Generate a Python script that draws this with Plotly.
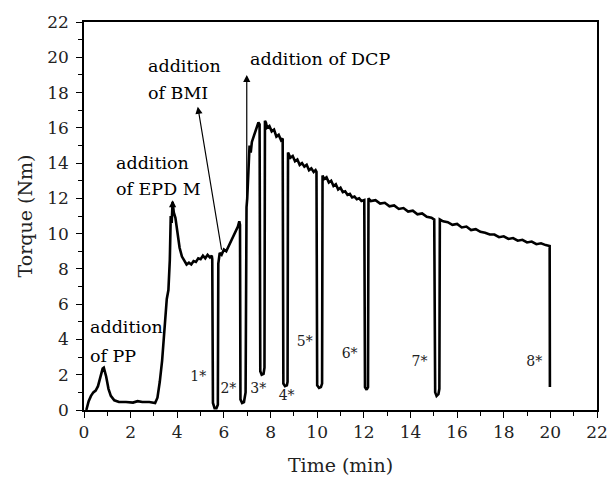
import plotly.graph_objects as go

# ---- data ----
time_min = [0.10, 0.20, 0.30, 0.40, 0.50, 0.60, 0.70, 0.80, 0.85, 0.95, 1.05, 1.15, 1.30, 1.50, 1.80,
            2.10, 2.30, 2.50, 2.80, 3.05, 3.15, 3.25, 3.35, 3.42, 3.50, 3.55, 3.62, 3.68, 3.72, 3.76,
            3.80, 3.85, 3.92, 4.00, 4.10, 4.20, 4.30, 4.40, 4.50, 4.60, 4.70, 4.80, 4.90, 5.00, 5.10,
            5.20, 5.30, 5.40, 5.48, 5.50,
            5.53, 5.60, 5.68, 5.74, 5.76, 5.82, 5.90, 6.00, 6.10, 6.20, 6.30, 6.40, 6.50, 6.60, 6.66, 6.69,
            6.71, 6.78, 6.86, 6.93, 6.97, 7.00, 7.05, 7.10, 7.15, 7.20, 7.30, 7.40, 7.48, 7.53,
            7.56, 7.62, 7.70, 7.74, 7.76, 7.80, 7.85, 7.95, 8.05, 8.15, 8.25, 8.35, 8.45, 8.52,
            8.55, 8.62, 8.70, 8.73, 8.75, 8.85, 8.95, 9.05, 9.15, 9.25, 9.35, 9.45, 9.55, 9.65, 9.75,
            9.85, 9.93, 9.97,
            10.00, 10.08, 10.16, 10.21, 10.23, 10.30, 10.40, 10.50, 10.60, 10.70, 10.80, 10.90, 11.00,
            11.10, 11.20, 11.30, 11.40, 11.50, 11.60, 11.70, 11.80, 11.90, 12.02,
            12.05, 12.12, 12.18, 12.20, 12.30, 12.50, 12.70, 12.90, 13.10, 13.30, 13.50, 13.70, 13.90,
            14.10, 14.30, 14.50, 14.70, 14.90, 15.02,
            15.04, 15.06, 15.12, 15.20, 15.24, 15.26, 15.40, 15.60, 15.80, 16.00, 16.20, 16.40, 16.60,
            16.80, 17.00, 17.20, 17.40, 17.60, 17.80, 18.00, 18.20, 18.40, 18.60, 18.80, 19.00, 19.20,
            19.40, 19.60, 19.80, 19.97, 19.98]
torque_nm = [0.00, 0.50, 0.80, 1.00, 1.10, 1.35, 1.85, 2.35, 2.40, 1.90, 1.20, 0.80, 0.55, 0.45, 0.45,
             0.42, 0.50, 0.45, 0.45, 0.40, 0.70, 1.60, 2.80, 4.10, 5.00, 6.30, 6.80, 8.50, 11.00, 10.60,
             11.80, 11.20, 10.90, 10.00, 9.20, 8.70, 8.50, 8.25, 8.35, 8.25, 8.45, 8.40, 8.60, 8.55, 8.75,
             8.60, 8.80, 8.65, 8.75, 8.55,
             0.40, 0.10, 0.10, 0.30, 8.30, 8.90, 8.80, 9.10, 9.00, 9.30, 9.50, 9.80, 10.10, 10.40, 10.70, 10.50,
             0.60, 0.40, 0.45, 1.00, 11.50, 12.00, 13.50, 15.00, 14.60, 15.20, 15.60, 16.00, 16.30, 16.20,
             2.20, 2.00, 2.05, 2.40, 16.40, 16.30, 16.00, 16.10, 15.80, 15.90, 15.50, 15.60, 15.30, 15.40,
             1.50, 1.35, 1.40, 1.60, 14.60, 14.30, 14.40, 14.10, 14.20, 13.90, 14.00, 13.80, 13.90, 13.60, 13.70,
             13.50, 13.60, 13.50,
             1.40, 1.25, 1.30, 1.50, 13.30, 13.10, 13.20, 12.90, 13.00, 12.70, 12.80, 12.50, 12.60,
             12.35, 12.40, 12.20, 12.25, 12.05, 12.10, 11.95, 12.00, 11.85, 11.90,
             1.30, 1.15, 1.30, 12.00, 11.85, 11.90, 11.70, 11.75, 11.55, 11.60, 11.40, 11.45, 11.25,
             11.30, 11.10, 11.15, 10.95, 10.90, 10.80,
             7.90, 1.00, 0.80, 0.90, 1.20, 10.80, 10.70, 10.65, 10.50, 10.55, 10.35, 10.40, 10.20,
             10.25, 10.10, 10.05, 9.95, 9.95, 9.80, 9.85, 9.70, 9.75, 9.60, 9.65, 9.50, 9.55,
             9.40, 9.45, 9.35, 9.30, 1.30]

drop_labels = ["1*", "2*", "3*", "4*", "5*", "6*", "7*", "8*"]
drop_label_x = [4.90, 6.19, 7.47, 8.69, 9.47, 11.39, 14.39, 19.31]
drop_label_y = [1.82, 1.16, 1.16, 0.78, 3.81, 3.15, 2.68, 2.68]

x_ticks = list(range(0, 23, 2))
y_ticks = list(range(0, 23, 2))

FONT = "DejaVu Serif"

fig = go.Figure()
fig.add_trace(go.Scatter(x=time_min, y=torque_nm, mode="lines",
                         line=dict(color="black", width=2.6), showlegend=False))
fig.add_trace(go.Scatter(x=drop_label_x, y=drop_label_y, mode="text", text=drop_labels,
                         textfont=dict(family=FONT, size=14, color="#222"), showlegend=False))

ann_font = dict(family=FONT, size=17.5, color="black")
texts = [
    ("addition", 0.18, 4.68), ("of PP", 0.18, 3.08),
    ("addition", 1.30, 14.03), ("of EPD M", 1.30, 12.52),
    ("addition", 2.68, 19.5), ("of BMI", 2.68, 18.0),
    ("addition of DCP", 7.05, 19.9),
]
for t, x, y in texts:
    fig.add_annotation(x=x, y=y, text=t, showarrow=False, xanchor="left", yanchor="middle",
                       font=ann_font)

arrows = [
    (4.88, 17.2, 5.91, 9.0),
    (6.98, 19.0, 6.98, 12.0),
    (3.80, 11.9, 3.80, 11.0),
]
for x, y, ax, ay in arrows:
    fig.add_annotation(x=x, y=y, ax=ax, ay=ay, xref="x", yref="y", axref="x", ayref="y",
                       showarrow=True, arrowhead=2, arrowsize=1.2, arrowwidth=1.2,
                       arrowcolor="black", text="")

axis_common = dict(showline=True, linecolor="black", linewidth=1.5, mirror=True,
                   ticks="outside", ticklen=6, tickwidth=1.2, tickcolor="black",
                   showgrid=False, zeroline=False, automargin=False,
                   tickfont=dict(family=FONT, size=17, color="#222"),
                   minor=dict(ticks="outside", ticklen=4, tickwidth=1, tickcolor="black", dtick=1))

fig.update_xaxes(range=[0, 22], tickvals=x_ticks,
                 title=dict(text="Time (min)", font=dict(family=FONT, size=19, color="#222"),
                            standoff=18), **axis_common)
fig.update_yaxes(range=[0, 22], tickvals=y_ticks, ticklabelstandoff=4,
                 title=dict(text="Torque (Nm)", font=dict(family=FONT, size=19, color="#222"),
                            standoff=10), **axis_common)

fig.update_layout(width=608, height=485, plot_bgcolor="white", paper_bgcolor="white",
                  margin=dict(l=84, r=11, t=22, b=75))

fig.write_html("out.html", config={"displayModeBar": False},
               post_script="document.body.style.margin='0';")
